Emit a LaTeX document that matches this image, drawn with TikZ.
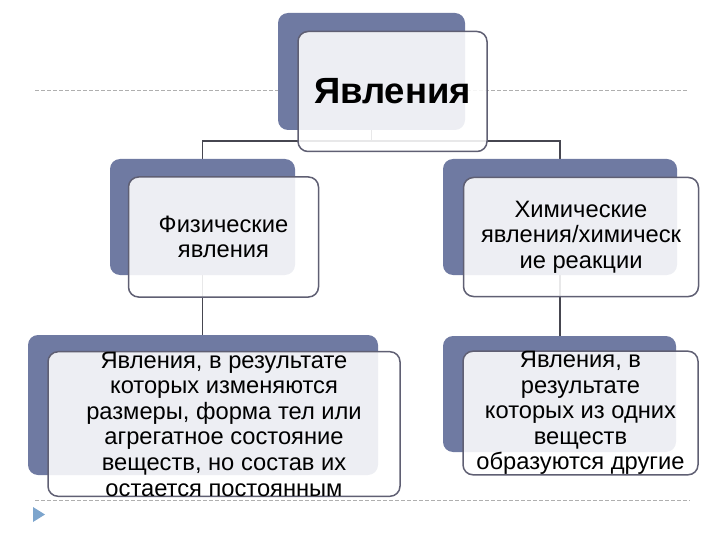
\documentclass[tikz,border=0pt]{standalone}
\usepackage{fontspec}
\setmainfont{Liberation Sans}
\definecolor{SlateBack}{RGB}{111,122,162}
\definecolor{FrameGray}{RGB}{95,95,115}
\definecolor{LinkGray}{RGB}{70,70,80}
\definecolor{GuideGray}{RGB}{175,175,175}
\definecolor{BulletBlue}{RGB}{125,165,205}
\usetikzlibrary{positioning,backgrounds}

\begin{document}
\begin{tikzpicture}[x=1pt, y=-1pt,
        font=\fontsize{23.7}{25.6}\selectfont,
        back/.style 2 args={fill=SlateBack, rounded corners=10pt, inner sep=0pt,
                            minimum width=#1, minimum height=#2},
        front/.style 2 args={draw=FrameGray, line width=1.5pt, fill=white,
                             fill opacity=0.88, text opacity=1, rounded corners=10pt,
                             inner sep=0pt, align=center,
                             minimum width=#1, minimum height=#2},
        lnk/.style={draw=LinkGray, line width=1.7pt},
        guide/.style={draw=GuideGray, dash pattern=on 4pt off 2pt, line width=0.8pt}
      ]
        \useasboundingbox (0,0) rectangle (720,540);
        \node[back={187pt}{117pt}] (topB) at (371.5,71.5) {};
        \node[front={189pt}{120pt}, shift={(21,20)}] (top) at (topB)
             {\bfseries\fontsize{36.5}{40}\selectfont Явления};
        \node[back={185pt}{116pt}] (physB) at (202.5,217) {};
        \node[front={190pt}{120pt}, shift={(21,20)}] (phys) at (physB)
             {Физические\\явления};
        \node[back={234pt}{116pt}] (chemB) at (560,217) {};
        \node[front={235pt}{119pt}, shift={(21,20)}] (chem) at (chemB)
             {Химические\\явления/химическ\\ие реакции};
        \node[back={350pt}{140pt}] (physInfoB) at (203,405) {};
        \node[front={352pt}{142pt}, shift={(21,19)}] (physInfo) at (physInfoB)
             {Явления, в результате\\которых изменяются\\размеры, форма тел или\\
              агрегатное состояние\\веществ, но состав их\\остается постоянным};
        \node[back={233pt}{116pt}] (chemInfoB) at (559.5,394) {};
        \node[front={235pt}{120pt}, shift={(21,19)}] (chemInfo) at (chemInfoB)
             {Явления, в\\результате\\которых из одних\\веществ\\образуются другие};
        \begin{scope}[on background layer]
          \draw[guide] (35,90) -- (687,90);
          \draw[guide] (35,500) -- (690,500);
          \draw[lnk] (topB.south) -- ++(0,11) -| (physB.north);
          \draw[lnk] (topB.south) -- ++(0,11) -| (chemB.north);
          \draw[lnk] (physB.south) -- (physB.south |- physInfoB.north);
          \draw[lnk] (chemB.south) -- (chemB.south |- chemInfoB.north);
        \end{scope}
        \fill[BulletBlue] (33,507) -- (45,514.5) -- (33,522) -- cycle;
      \end{tikzpicture}
\end{document}
